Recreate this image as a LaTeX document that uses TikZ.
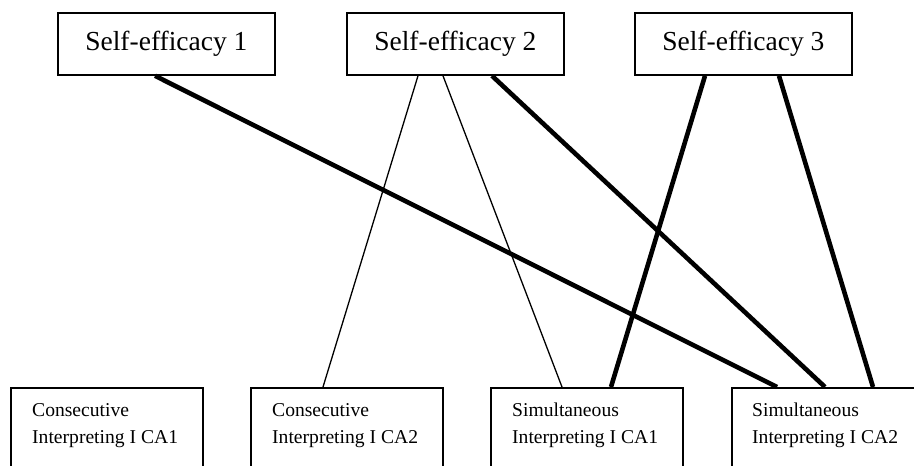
\documentclass[tikz,border=0pt]{standalone}
\usepackage{fontspec}
\setmainfont{Liberation Serif}
\usetikzlibrary{calc}
\begin{document}
\begin{tikzpicture}[x=1pt,y=-1pt,
  topbox/.style={draw, line width=1.8pt, minimum width=217pt, minimum height=62pt,
    inner sep=0pt, anchor=north west, font=\fontsize{27.5}{30}\selectfont},
  botbox/.style={draw, line width=1.8pt, minimum width=192pt, minimum height=120pt,
    inner sep=0pt, anchor=north west},
  bottext/.style={anchor=north west, align=left, inner sep=0pt,
    font=\fontsize{19.6}{27}\selectfont},
  strong/.style={line width=4.6pt},
  weak/.style={line width=1.3pt}]
\clip (0,0) rectangle (914,466);
\fill[white] (0,0) rectangle (914,466);

% upper row: self-efficacy measures
\node[topbox] (se1) at (57,12)  {Self-efficacy 1};
\node[topbox] (se2) at (346,12) {Self-efficacy 2};
\node[topbox] (se3) at (634,12) {Self-efficacy 3};

% lower row: course assessments (boxes run past the lower edge)
\node[botbox] (ca) at (10,387)  {};
\node[botbox] (cb) at (250,387) {};
\node[botbox] (cc) at (490,387) {};
\node[botbox] (cd) at (731,387) {};

\node[bottext] (ta) at (32,403)  {Consecutive\\Interpreting I CA1};
\node[bottext] (tb) at (272,403) {Consecutive\\Interpreting I CA2};
\node[bottext] (tc) at (512,403) {Simultaneous\\Interpreting I CA1};
\node[bottext] (td) at (752,403) {Simultaneous\\Interpreting I CA2};

% links
\draw[strong] ($(se1.south west)+(98,0)$)  -- ($(cd.north west)+(46,0)$);
\draw[weak]   ($(se2.south west)+(72,0)$)  -- ($(cb.north west)+(73,0)$);
\draw[weak]   ($(se2.south west)+(97,0)$)  -- ($(cc.north west)+(72,0)$);
\draw[strong] ($(se2.south west)+(146,0)$) -- ($(cd.north west)+(94,0)$);
\draw[strong] ($(se3.south west)+(71,0)$)  -- ($(cc.north west)+(121,0)$);
\draw[strong] ($(se3.south west)+(145,0)$) -- ($(cd.north west)+(142,0)$);
\end{tikzpicture}
\end{document}
